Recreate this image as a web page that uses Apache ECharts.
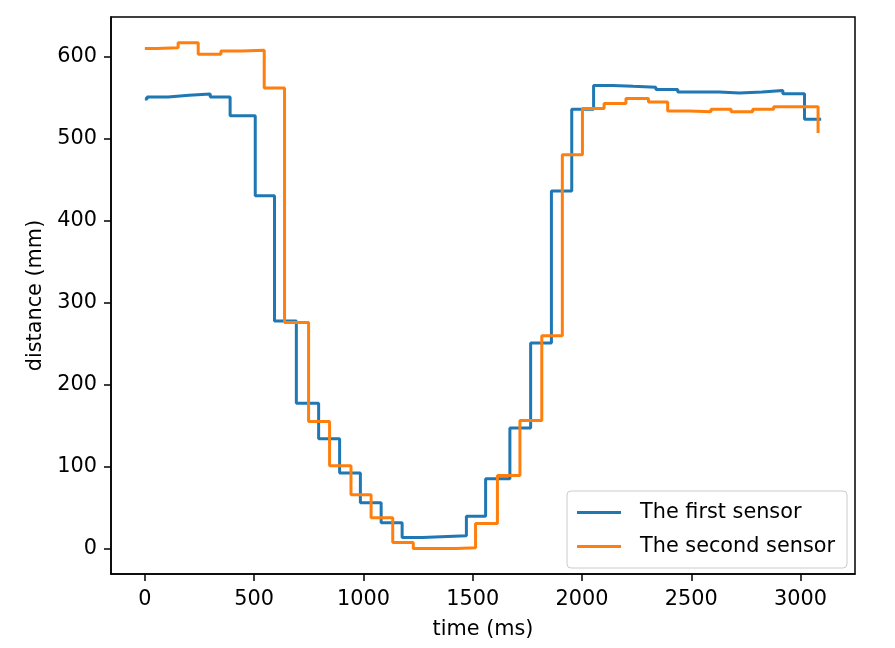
<!DOCTYPE html>
<html><head><meta charset="utf-8">
<script src="https://cdn.jsdelivr.net/npm/echarts@6/dist/echarts.min.js"></script>
<style>html,body{margin:0;padding:0;background:#fff}#c{width:895px;height:648px}</style>
</head><body><div id="c"></div>
<script>
// Step data: each point = time at which the value starts, last point = end of trace
const firstTimes  = [0, 10, 106, 202, 299, 390, 505, 593, 693, 795, 891, 986, 1081, 1177, 1269, 1471, 1559, 1670, 1765, 1860, 1953, 2053, 2140, 2234, 2338, 2438, 2628, 2720, 2824, 2919, 3018, 3094];
const firstValues = [548, 550.5, 552.5, 554, 550.5, 527.5, 430, 277.5, 177, 134, 92, 56, 31.5, 13.5, 15.5, 39.5, 85, 147, 250.5, 436, 535.5, 564.5, 563.5, 562.5, 559.5, 556.5, 555.5, 556.5, 558.5, 554.5, 523.5, 523.5];
const secondTimes  = [0, 54, 152, 244, 348, 444, 546, 639, 749, 845, 943, 1035, 1134, 1228, 1426, 1513, 1613, 1716, 1816, 1910, 2002, 2101, 2201, 2304, 2392, 2491, 2590, 2682, 2781, 2877, 3080];
const secondValues = [609.5, 610.5, 616.5, 602.5, 606.5, 607.5, 561.5, 275.5, 155, 101, 65.5, 37.5, 7.5, 0, 1, 30.5, 89, 156, 259.5, 480, 536.5, 542.5, 548.5, 544.5, 533.5, 532.5, 535.5, 532.5, 535.5, 538.5, 506.5];
const seriesNames = ['The first sensor', 'The second sensor'];
const seriesColors = ['#1f77b4', '#ff7f0e'];
const xTicks = [0, 500, 1000, 1500, 2000, 2500, 3000];
const yTicks = [0, 100, 200, 300, 400, 500, 600];
const xLabel = 'time (ms)';
const yLabel = 'distance (mm)';

const zip = (a, b) => a.map((t, i) => [t, b[i]]);
const FONT = 'DejaVu Sans';
const FS = 20.8;
const plain = v => String(v);

const chart = echarts.init(document.getElementById('c'), null, {renderer: 'canvas'});
chart.setOption({
  animation: false,
  backgroundColor: '#fff',
  grid: {left: 111, right: 40, top: 17, bottom: 74, show: true, borderColor: '#000', borderWidth: 1.5, backgroundColor: 'transparent'},
  xAxis: {
    type: 'value', min: -155, max: 3249,
    axisLine: {show: true, onZero: false, lineStyle: {color: '#000', width: 1.5}},
    axisTick: {show: true, length: 7, lineStyle: {color: '#000', width: 1.5}, customValues: xTicks},
    axisLabel: {show: true, margin: 15, color: '#000', fontFamily: FONT, fontSize: FS, customValues: xTicks, formatter: plain},
    splitLine: {show: false},
    name: xLabel, nameLocation: 'middle', nameGap: 45,
    nameTextStyle: {color: '#000', fontFamily: FONT, fontSize: FS}
  },
  yAxis: {
    type: 'value', min: -31, max: 648,
    axisLine: {show: true, onZero: false, lineStyle: {color: '#000', width: 1.5}},
    axisTick: {show: true, length: 7, lineStyle: {color: '#000', width: 1.5}, customValues: yTicks},
    axisLabel: {show: true, margin: 14, color: '#000', fontFamily: FONT, fontSize: FS, customValues: yTicks, formatter: plain},
    splitLine: {show: false},
    name: yLabel, nameLocation: 'middle', nameGap: 62,
    nameTextStyle: {color: '#000', fontFamily: FONT, fontSize: FS}
  },
  legend: {
    orient: 'vertical', right: 48, bottom: 80,
    data: seriesNames,
    icon: 'rect', itemWidth: 44, itemHeight: 3, itemGap: 13,
    padding: [11, 12, 11, 10],
    backgroundColor: 'rgba(255,255,255,0.8)', borderColor: '#cccccc', borderWidth: 1, borderRadius: 4,
    selectedMode: false,
    textStyle: {color: '#000', fontFamily: FONT, fontSize: FS, padding: [0, 0, 0, 14]}
  },
  series: [
    {name: seriesNames[0], type: 'line', step: 'end', showSymbol: false, symbol: 'none', data: zip(firstTimes, firstValues),
     lineStyle: {color: seriesColors[0], width: 3}, itemStyle: {color: seriesColors[0]}},
    {name: seriesNames[1], type: 'line', step: 'end', showSymbol: false, symbol: 'none', data: zip(secondTimes, secondValues),
     lineStyle: {color: seriesColors[1], width: 3}, itemStyle: {color: seriesColors[1]}}
  ]
});
</script>
</body></html>
